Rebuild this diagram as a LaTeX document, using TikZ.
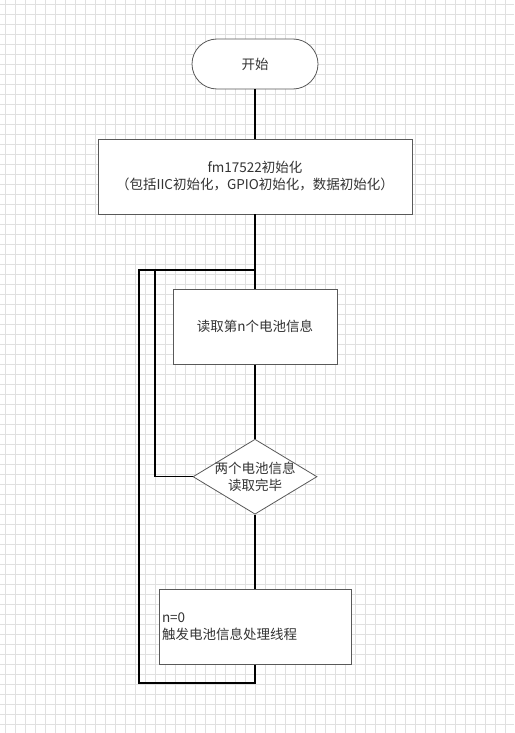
\documentclass[tikz,border=0pt]{standalone}
\usepackage{fontspec}
\setmainfont{Noto Sans CJK SC}
\usetikzlibrary{shapes.geometric}

\begin{document}
\begin{tikzpicture}[x=1pt, y=-1pt,
	gridline/.style={draw=black!12, line width=0.6pt},
	link/.style={draw=black, line width=1.4pt},
	txt/.style={text=black!80, font=\fontsize{13.5}{17}\selectfont},
	terminal/.style={txt, draw=black!65, fill=white, line width=0.8pt, rounded corners=25pt, minimum width=126pt, minimum height=50pt},
	box/.style={txt, draw=black!65, fill=white, line width=0.8pt, minimum width=#1, minimum height=75pt, align=center},
	decision/.style={draw=black!65, fill=white, line width=0.8pt, diamond, minimum width=124pt, minimum height=75pt, inner sep=0pt}]
	
	\useasboundingbox (0,0) rectangle (514,733);
	\fill[white] (0,0) rectangle (514,733);
	\foreach \gx in {5,15,...,505} \draw[gridline] (\gx,0) -- (\gx,733);
	\foreach \gy in {4,14,...,730} \draw[gridline] (0,\gy) -- (514,\gy);
	
	\coordinate (merge) at (255,270);
	
	\node[terminal] (start) at (255,64) {开始};
	\node[box=314pt] (init) at (255,176.5) {fm17522初始化\\（包括IIC初始化，GPIO初始化，数据初始化）};
	\node[box=164pt] (read) at (255,326.8) {读取第n个电池信息};
	\node[decision, label={[txt, align=center]center:两个电池信息\\读取完毕}] (check) at (255,476.7) {};
	\node[box=192pt, text width=186pt, inner xsep=3pt, align=left] (done) at (255,626.8) {n=0\\触发电池信息处理线程};
	
	\draw[link] (start) -- (init) -- (read) -- (check) -- (done);
	\draw[link] (done.south) |- (139,683) |- (merge);
	\draw[link] (check.west) -| (155,270) -- (merge);
\end{tikzpicture}
\end{document}
